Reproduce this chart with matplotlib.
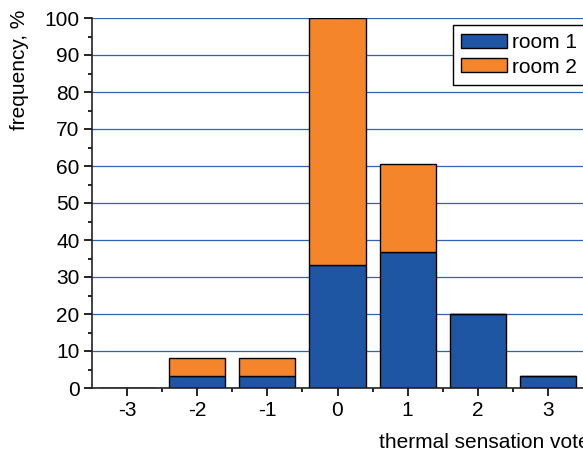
import matplotlib.pyplot as plt
from matplotlib.ticker import MultipleLocator

plt.rcParams['font.family'] = ['Liberation Sans', 'DejaVu Sans']

# thermal sensation votes
votes = [-3, -2, -1, 0, 1, 2, 3]
room1 = [0, 3.3, 3.3, 33.3, 36.7, 20.0, 3.3]
room2 = [0, 4.7, 4.7, 66.7, 23.8, 0, 0]

fig = plt.figure(figsize=(5.83, 4.55), dpi=100)
ax = fig.add_axes([92 / 583, 67 / 455, 491 / 583, 370 / 455])

ax.yaxis.grid(True, color='#2f62b5', linewidth=0.9)
ax.set_axisbelow(True)

ax.bar(votes, room1, width=0.8, color='#1f56a3', edgecolor='black', linewidth=1, label='room 1')
ax.bar(votes, room2, width=0.8, bottom=room1, color='#f5852b', edgecolor='black', linewidth=1, label='room 2')

ax.set_xlim(-3.5, 3.5)
ax.set_ylim(0, 100)
ax.set_xticks(votes)
ax.set_xticklabels([str(v) for v in votes])
ax.xaxis.set_minor_locator(plt.FixedLocator([-2.5, -1.5, -0.5, 0.5, 1.5, 2.5]))
ax.yaxis.set_major_locator(MultipleLocator(10))
ax.yaxis.set_minor_locator(MultipleLocator(5))
ax.tick_params(axis='both', which='major', labelsize=15, length=6, width=1.2,
               direction='out', pad=3)
ax.tick_params(axis='both', which='minor', length=3, width=1.2, direction='out')

for side in ['top', 'right']:
    ax.spines[side].set_visible(False)
for side in ['left', 'bottom']:
    ax.spines[side].set_linewidth(1.2)
    ax.spines[side].set_color('#222222')

leg = ax.legend(loc='upper left', fontsize=15, frameon=True, fancybox=False,
                edgecolor='black', framealpha=1,
                handlelength=2.2, handleheight=0.65, handletextpad=0.25,
                labelspacing=0.25, borderpad=0.4, borderaxespad=0,
                bbox_to_anchor=((453 - 92) / 491, 1 - 7 / 370))
leg.get_frame().set_linewidth(1)

fig.text(20 / 583, 1 - 70 / 455, 'frequency, %', rotation=90, fontsize=15,
         ha='center', va='center')
fig.text(379 / 583, 1 - 442 / 455, 'thermal sensation vote', fontsize=15,
         ha='left', va='center')

fig.savefig('out.png', dpi=100)
